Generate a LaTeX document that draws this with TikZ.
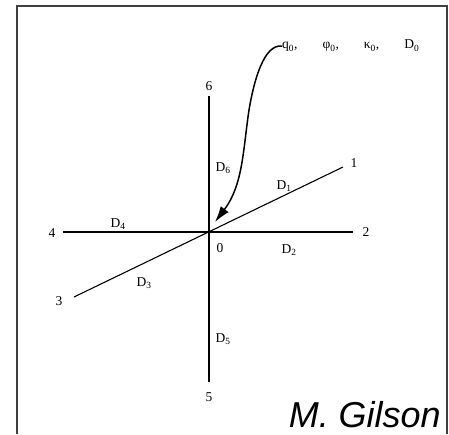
\documentclass[tikz,border=0pt]{standalone}
\usepackage{fontspec}
\setmainfont{Liberation Serif}
\newfontfamily\sansit{Liberation Sans}
\usetikzlibrary{arrows.meta}
\tikzset{
  axis/.style={line width=1.4pt, black},
  lbl/.style={inner sep=0pt, font=\fontsize{13.5}{14}\selectfont},
  dlbl/.style={inner sep=0pt, font=\fontsize{13.5}{14}\selectfont},
  frameline/.style={line width=2pt, color=black!75},
}
\begin{document}
\begin{tikzpicture}[x=1pt,y=-1pt]
\useasboundingbox (0,0) rectangle (449,434);
% frame
\draw[frameline] (17,434) -- (17,6) -- (447,6) -- (447,434);
% axis ends
\coordinate (O) at (209,232);
\coordinate (e1) at (343,167);
\coordinate (e2) at (353,232);
\coordinate (e3) at (74,297);
\coordinate (e4) at (63,232);
\coordinate (e5) at (209,382);
\coordinate (e6) at (209,96);
\draw[axis] (e4) -- (e2);
\draw[axis] (e6) -- (e5);
\draw[line width=1.1pt] (e3) -- (e1);
% end labels
\node[lbl] (n1) at (354,163) {1};
\node[lbl] (n2) at (366,232) {2};
\node[lbl] (n3) at (59,301) {3};
\node[lbl] (n4) at (52,233) {4};
\node[lbl] (n5) at (209,397) {5};
\node[lbl] (n6) at (209,86) {6};
\node[lbl] (n0) at (220,248) {0};
% D labels
\node[dlbl] (d1) at (284,186) {D\textsubscript{1}};
\node[dlbl] (d2) at (289,250) {D\textsubscript{2}};
\node[dlbl] (d3) at (144,283) {D\textsubscript{3}};
\node[dlbl] (d4) at (118,224) {D\textsubscript{4}};
\node[dlbl] (d5) at (223,339) {D\textsubscript{5}};
\node[dlbl] (d6) at (223,168) {D\textsubscript{6}};
% top label
\node[lbl, anchor=west] (top) at (282,46) {q\textsubscript{0},\hspace{25pt}φ\textsubscript{0},\hspace{25pt}κ\textsubscript{0},\hspace{25pt}D\textsubscript{0}};
\coordinate (tip) at (215,222);
\draw[line width=1.5pt, -{Latex[length=16pt,width=10pt]}] (top.west) .. controls (264,44) and (254,80) .. (249,110)
  .. controls (243,150) and (243,185) .. (tip);
% author
\node[anchor=base east, inner sep=0pt, font=\sansit\itshape\fontsize{36}{40}\selectfont] (auth) at (441,427) {M. Gilson};
\end{tikzpicture}
\end{document}
